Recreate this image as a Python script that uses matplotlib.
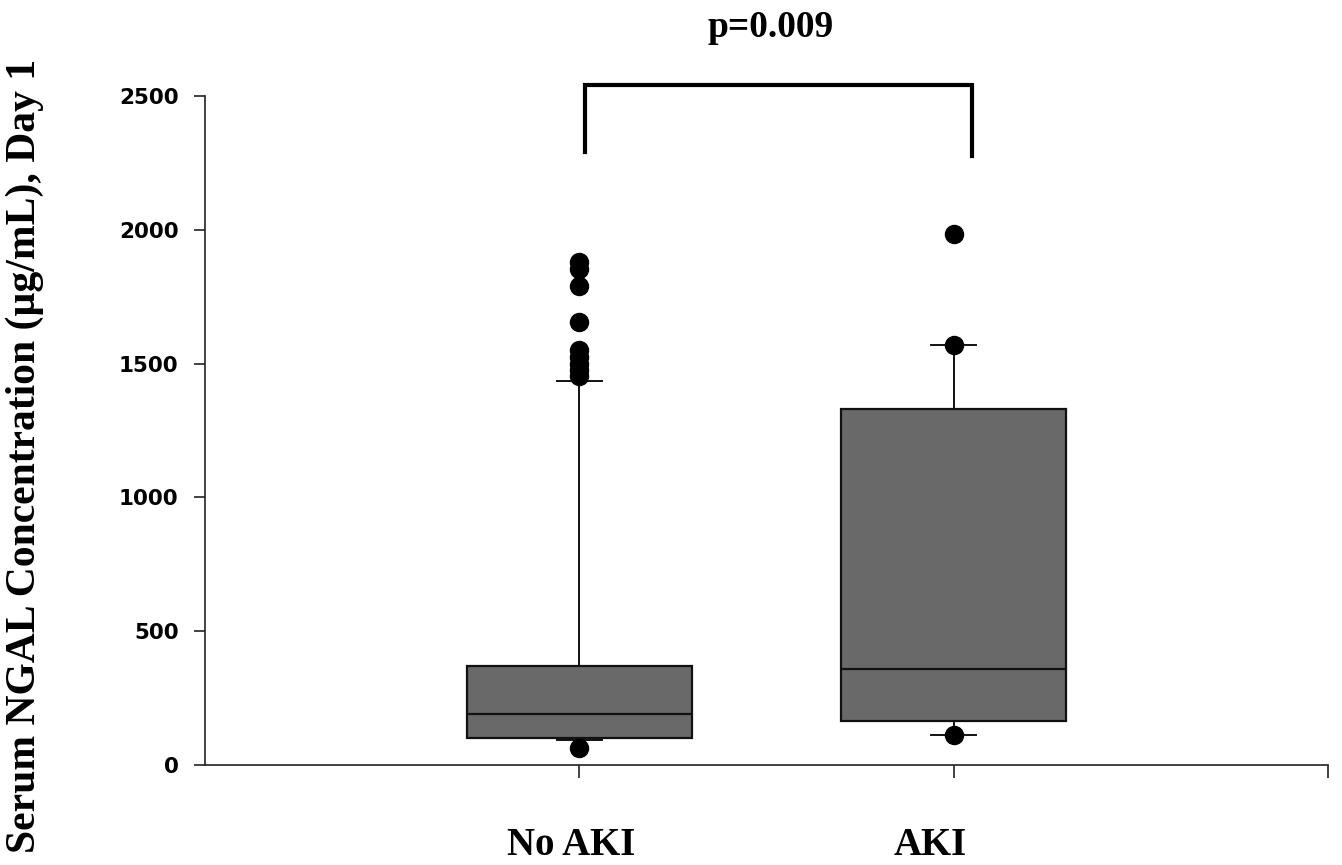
import matplotlib
matplotlib.use("Agg")
import matplotlib.pyplot as plt
import matplotlib.transforms as mtransforms

# ---- data ----
categories = ["No AKI", "AKI"]
q1_vals = [100, 165]
median_vals = [190, 360]
q3_vals = [370, 1330]
whisker_low = [95, 112]
whisker_high = [1435, 1570]
outliers_no_aki = [1880, 1855, 1790, 1655, 1550, 1525, 1500, 1475, 1455, 65]
outliers_aki = [1985, 1570, 112]
yticks = [0, 500, 1000, 1500, 2000, 2500]
p_text = "p=0.009"

fig = plt.figure(figsize=(13.42, 8.65), dpi=100)
ax = fig.add_axes([205/1342, 1-765/865, (1328-205)/1342, (765-96)/865])

stats = []
for i, name in enumerate(categories):
    stats.append(dict(label=name, q1=q1_vals[i], med=median_vals[i], q3=q3_vals[i],
                      whislo=whisker_low[i], whishi=whisker_high[i],
                      fliers=[outliers_no_aki, outliers_aki][i]))

positions = [1, 2]
ax.bxp(stats, positions=positions, widths=0.6, patch_artist=True, showfliers=True,
       capwidths=0.12,
       boxprops=dict(facecolor="#696969", edgecolor="#111111", linewidth=1.6),
       medianprops=dict(color="#111111", linewidth=1.6),
       whiskerprops=dict(color="#111111", linewidth=1.4),
       capprops=dict(color="#111111", linewidth=1.4),
       flierprops=dict(marker="o", markerfacecolor="black", markeredgecolor="black",
                       markersize=13, linestyle="none"))

ax.set_xlim(0, 3)
ax.set_ylim(0, 2500)
ax.set_yticks(yticks)
ax.set_yticklabels([str(v) for v in yticks], fontfamily="DejaVu Sans",
                   fontweight="bold", fontsize=15.5)
ax.set_xticks([1, 2, 3])
ax.set_xticklabels(["", "", ""])

# category labels (slightly left of their ticks, as in the reference)
label_shifts = [-0.08, -0.23]
for pos, name, dx in zip(positions, categories, label_shifts):
    tr = ax.get_xaxis_transform() + mtransforms.ScaledTranslation(dx, 0, fig.dpi_scale_trans)
    ax.text(pos, -0.134, name, transform=tr, ha="center", va="baseline",
            fontfamily="Liberation Serif", fontweight="bold", fontsize=28, clip_on=False)

for s in ["top", "right"]:
    ax.spines[s].set_visible(False)
for s in ["left", "bottom"]:
    ax.spines[s].set_linewidth(1.2)
    ax.spines[s].set_color("#222222")
ax.tick_params(axis="y", direction="out", length=8, width=1.2, pad=11, color="#222222")
ax.tick_params(axis="x", direction="out", length=9, width=1.2, color="#222222")

# significance bracket
bx = [1.015, 1.015, 2.05, 2.05]
by = [2290, 2540, 2540, 2275]
ax.plot(bx, by, color="black", linewidth=3, clip_on=False, solid_joinstyle="miter")
ax.text(1.51, 2690, p_text, ha="center", va="bottom", fontfamily="Liberation Serif",
        fontweight="bold", fontsize=27, clip_on=False)

fig.text(25/1342, 1-456/865, "Serum NGAL Concentration (µg/mL), Day 1",
         rotation=90, ha="center", va="center", fontfamily="Liberation Serif",
         fontweight="bold", fontsize=30)

fig.savefig("out.png", dpi=100)
